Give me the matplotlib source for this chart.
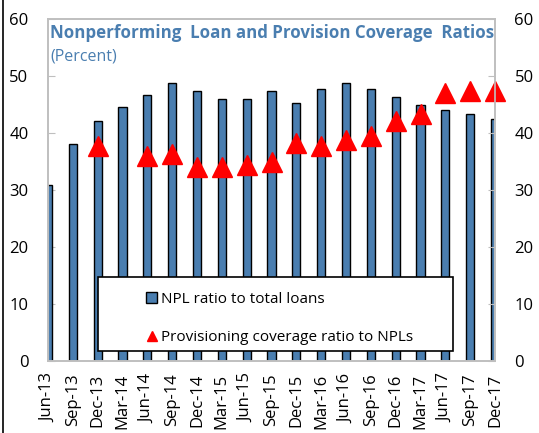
import matplotlib.pyplot as plt
import numpy as np
from matplotlib.lines import Line2D
from matplotlib.patches import Rectangle

plt.rcParams['font.family'] = ['Open Sans', 'DejaVu Sans']

quarters = ['Jun-13', 'Sep-13', 'Dec-13', 'Mar-14', 'Jun-14', 'Sep-14', 'Dec-14',
            'Mar-15', 'Jun-15', 'Sep-15', 'Dec-15', 'Mar-16', 'Jun-16', 'Sep-16',
            'Dec-16', 'Mar-17', 'Jun-17', 'Sep-17', 'Dec-17']
npl_ratio = [30.8, 38.0, 42.1, 44.5, 46.7, 48.8, 47.4, 46.0, 46.0, 47.4,
             45.2, 47.8, 48.8, 47.8, 46.4, 45.0, 44.0, 43.3, 42.4]
coverage = [np.nan, np.nan, 37.8, np.nan, 35.9, 36.4, 34.0, 34.0, 34.4, 35.0,
            38.2, 37.8, 38.8, 39.5, 42.1, 43.3, 47.1, 47.4, 47.4]

blue = '#4A7EB0'
grey = '#BFBFBF'

fig = plt.figure(figsize=(5.39, 4.33), dpi=100)
ax = fig.add_axes([48/539, 72/433, 447/539, 342/433])
x = np.arange(len(quarters))

bars = ax.bar(x, npl_ratio, width=0.33, color=blue, edgecolor='black',
              linewidth=1.0, zorder=2)
ax.plot(x, coverage, linestyle='none', marker='^', markersize=14,
        color='red', zorder=3, clip_on=False)

ax.set_xlim(0, len(quarters) - 1)
ax.set_ylim(0, 60)
ax.set_yticks(range(0, 61, 10))
ax.set_xticks(x)
ax.set_xticklabels(quarters, rotation=90, fontsize=12)
ax.tick_params(axis='y', direction='in', length=5, color=grey, labelsize=12, pad=14)
ax.tick_params(axis='x', length=0, pad=9)
for s in ax.spines.values():
    s.set_color(grey)
    s.set_linewidth(1.2)

ax2 = ax.twinx()
ax2.set_ylim(0, 60)
ax2.set_yticks(range(0, 61, 10))
ax2.tick_params(axis='y', direction='in', length=5, color=grey, labelsize=12, pad=14)
for s in ax2.spines.values():
    s.set_color(grey)
    s.set_linewidth(1.2)

ax.text(0.005, 0.985, 'Nonperforming  Loan and Provision Coverage  Ratios',
        transform=ax.transAxes, ha='left', va='top', fontsize=12.2,
        fontweight='bold', color=blue)
ax.text(0.005, 0.915, '(Percent)', transform=ax.transAxes, ha='left', va='top',
        fontsize=11.5, color=blue)

# legend box drawn separately so the entries can sit indented inside it
ax2.add_patch(Rectangle((0.112, 0.029), 0.794, 0.217, transform=ax2.transAxes,
                        facecolor='white', edgecolor='black', linewidth=1.2, zorder=4))
tri_handle = Line2D([], [], linestyle='none', marker='^', markersize=6.5, color='red')
leg = ax2.legend([bars, tri_handle], ['NPL ratio to total loans', 'Provisioning coverage ratio to NPLs'],
                 loc='center left', bbox_to_anchor=(146/539, (433 - 318.5)/433),
                 bbox_transform=fig.transFigure, fontsize=11, frameon=False,
                 borderpad=0, labelspacing=1.5, handlelength=0.75,
                 handletextpad=0.25, borderaxespad=0)
leg.set_zorder(5)

fig.add_artist(Line2D([3/539, 3/539], [0, 1], color='black', linewidth=1.2))

fig.savefig('out.png', dpi=100)
